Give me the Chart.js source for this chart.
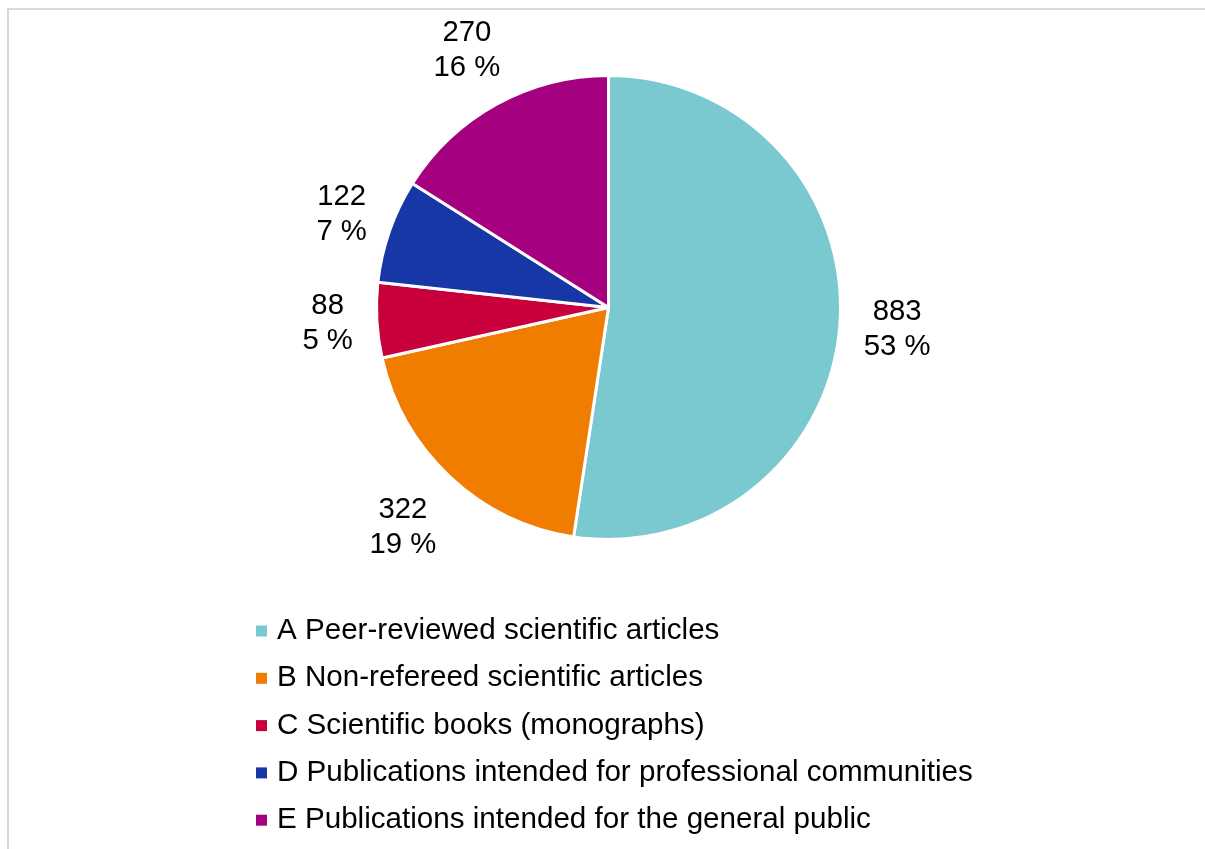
<!DOCTYPE html>
<html>
<head>
<meta charset="utf-8">
<script src="https://cdn.jsdelivr.net/npm/chart.js@4"></script>
<style>
  html, body { margin: 0; padding: 0; background: #fff; overflow: hidden; }
  #wrap { position: absolute; left: 0; top: 0; width: 1205px; height: 849px; }
  #frame { position: absolute; left: 7px; top: 8px; width: 1300px; height: 1000px; border: 2px solid #d9d9d9; box-sizing: border-box; }
</style>
</head>
<body>
<div id="frame"></div>
<div id="wrap"><canvas id="myChart"></canvas></div>
<script>
const categories = [
  "A Peer-reviewed scientific articles",
  "B Non-refereed scientific articles",
  "C Scientific books (monographs)",
  "D Publications intended for professional communities",
  "E Publications intended for the general public"
];
const counts = [883, 322, 88, 122, 270];
const percentLabels = ["53 %", "19 %", "5 %", "7 %", "16 %"];
const colors = ["#7AC8D0", "#F07D00", "#C8003C", "#1837A6", "#A5007F"];

const FONT = '"Liberation Sans", Arial, sans-serif';

// value + percent labels outside each slice
const sliceLabels = {
  id: 'sliceLabels',
  afterDatasetsDraw(chart) {
    const ctx = chart.ctx;
    const arcs = chart.getDatasetMeta(0).data;
    ctx.save();
    ctx.font = '29.3px ' + FONT;
    ctx.fillStyle = '#000';
    ctx.textAlign = 'center';
    ctx.textBaseline = 'middle';
    const lineH = 35;
    const gap = 24;
    arcs.forEach((arc, i) => {
      const p = arc.getProps(['x', 'y', 'startAngle', 'endAngle', 'outerRadius'], true);
      const mid = (p.startAngle + p.endAngle) / 2;
      const dx = Math.cos(mid), dy = Math.sin(mid);
      const lines = [String(counts[i]), percentLabels[i]];
      const w = Math.max(...lines.map(l => ctx.measureText(l).width));
      const h = lines.length * lineH - 4;
      const t = Math.min(Math.abs(dx) > 1e-6 ? (w / 2) / Math.abs(dx) : Infinity,
                         Math.abs(dy) > 1e-6 ? (h / 2) / Math.abs(dy) : Infinity);
      const d = p.outerRadius + gap + t;
      const cx = p.x + dx * d, cy = p.y + dy * d;
      lines.forEach((l, j) => {
        ctx.fillText(l, cx, cy + (j - (lines.length - 1) / 2) * lineH);
      });
    });
    ctx.restore();
  }
};

// vertical legend below the pie
const listLegend = {
  id: 'listLegend',
  afterDraw(chart) {
    const ctx = chart.ctx;
    ctx.save();
    ctx.font = '29.6px ' + FONT;
    ctx.textBaseline = 'middle';
    ctx.textAlign = 'left';
    const x0 = 256, y0 = 631, step = 47.3, box = 11;
    categories.forEach((c, i) => {
      const y = y0 + i * step;
      ctx.fillStyle = colors[i];
      ctx.fillRect(x0, y - box / 2, box, box);
      ctx.fillStyle = '#000';
      ctx.fillText(c, x0 + 21, y);
    });
    ctx.restore();
  }
};

const data = {
  labels: categories,
  datasets: [{
    data: counts,
    backgroundColor: colors,
    borderColor: '#fff',
    borderWidth: 3
  }]
};

const config = {
  type: 'pie',
  data: data,
  options: {
    responsive: true,
    maintainAspectRatio: false,
    animation: false,
    layout: { padding: { top: 74, bottom: 308, left: 375, right: 363 } },
    plugins: {
      legend: { display: false },
      tooltip: { enabled: false },
      title: { display: false }
    }
  },
  plugins: [sliceLabels, listLegend]
};

const myChart = new Chart(document.getElementById('myChart'), config);
</script>
</body>
</html>
